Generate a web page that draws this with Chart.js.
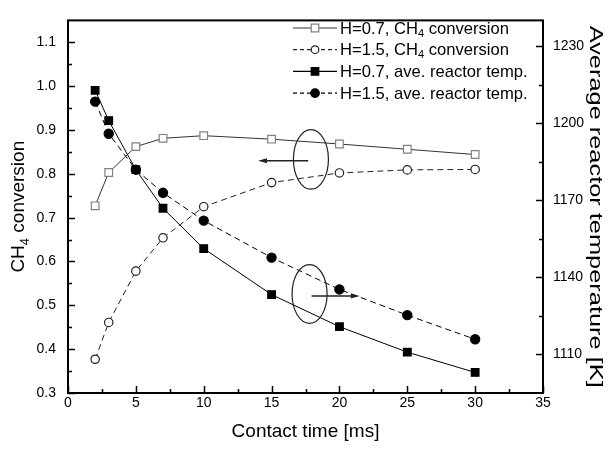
<!DOCTYPE html>
<html>
<head>
<meta charset="utf-8">
<script src="https://cdn.jsdelivr.net/npm/chart.js@4/dist/chart.umd.min.js"></script>
<style>
  body { margin: 0; background: #fff; }
  #wrap { width: 609px; height: 453px; }
</style>
</head>
<body>
<div id="wrap"><canvas id="chart" width="609" height="453"></canvas></div>
<script>
// Data
const contactTime = [2, 3, 5, 7, 10, 15, 20, 25, 30];           // ms
const conv07 = [0.727, 0.803, 0.862, 0.881, 0.887, 0.879, 0.868, 0.856, 0.844];
const conv15 = [0.377, 0.461, 0.578, 0.654, 0.725, 0.780, 0.802, 0.809, 0.810];
const temp07 = [1212.8, 1201.0, 1181.9, 1166.9, 1151.2, 1133.3, 1120.8, 1110.9, 1103.0]; // K
const temp15 = [1208.4, 1195.9, 1181.9, 1172.9, 1162.1, 1147.7, 1135.3, 1125.3, 1115.9]; // K

const seriesLabels = [
    'H=0.7, CH_4 conversion',
    'H=1.5, CH_4 conversion',
    'H=0.7, ave. reactor temp.',
    'H=1.5, ave. reactor temp.'
];

// Tick labels
const xTicks = [0, 5, 10, 15, 20, 25, 30, 35];
const convTicks = [0.3, 0.4, 0.5, 0.6, 0.7, 0.8, 0.9, 1.0, 1.1];
const tempTicks = [1110, 1140, 1170, 1200, 1230];

const xTitle = 'Contact time [ms]';
const yTitle = 'CH_4 conversion';
const y2Title = 'Average reactor temperature [K]';

const FONT = '"Liberation Sans", Arial, sans-serif';

// Pieces of text: '_4' means a subscript 4
function richParts(text) {
    const out = [];
    text.split('_').forEach((p, i) => {
        if (i > 0) {
            out.push({ t: p[0], sub: true });
            p = p.slice(1);
        }
        if (p) out.push({ t: p, sub: false });
    });
    return out;
}

function richWidth(ctx, text, size) {
    let w = 0;
    richParts(text).forEach(p => {
        ctx.font = (p.sub ? Math.round(size * 0.68) : size) + 'px ' + FONT;
        w += ctx.measureText(p.t).width;
    });
    return w;
}

function drawRich(ctx, text, x, y, size) {
    let cx = x;
    richParts(text).forEach(p => {
        const s = p.sub ? Math.round(size * 0.68) : size;
        ctx.font = s + 'px ' + FONT;
        ctx.fillText(p.t, cx, p.sub ? y + size * 0.28 : y);
        cx += ctx.measureText(p.t).width;
    });
}

function marker(ctx, style, filled, x, y, r, stroke) {
    ctx.save();
    ctx.setLineDash([]);
    ctx.lineWidth = 1.2;
    ctx.strokeStyle = stroke;
    ctx.fillStyle = filled ? '#000' : '#fff';
    ctx.beginPath();
    if (style === 'rect') {
        ctx.rect(x - r, y - r, 2 * r, 2 * r);
    } else {
        ctx.arc(x, y, r, 0, Math.PI * 2);
    }
    ctx.fill();
    ctx.stroke();
    ctx.restore();
}

// annotation ellipses with arrows, in data units of x and left y
const notes = [
    { cx: 17.9, cy: 0.833, rx: 1.29, ry: 0.068, from: 17.7, to: 14.0, ay: 0.830 },
    { cx: 17.8, cy: 0.526, rx: 1.29, ry: 0.067, from: 17.95, to: 21.5, ay: 0.521 }
];

const framePlugin = {
    id: 'frame',
    afterDraw(chart) {
        const ctx = chart.ctx;
        const a = chart.chartArea;
        const sx = chart.scales.x, sy = chart.scales.y, sy2 = chart.scales.y2;
        ctx.save();
        ctx.strokeStyle = '#000';

        // inward tick marks
        ctx.lineWidth = 1.5;
        ctx.beginPath();
        xTicks.forEach(v => {
            const p = Math.round(sx.getPixelForValue(v)) + 0.5;
            ctx.moveTo(p, a.bottom); ctx.lineTo(p, a.bottom - 7);
        });
        xTicks.slice(0, -1).forEach(v => {
            const p = Math.round(sx.getPixelForValue(v + 2.5)) + 0.5;
            ctx.moveTo(p, a.bottom); ctx.lineTo(p, a.bottom - 4);
        });
        convTicks.forEach(v => {
            const p = Math.round(sy.getPixelForValue(v)) + 0.5;
            ctx.moveTo(a.left, p); ctx.lineTo(a.left + 7, p);
            const m = Math.round(sy.getPixelForValue(v + 0.05)) + 0.5;
            if (v + 0.05 < 1.14) { ctx.moveTo(a.left, m); ctx.lineTo(a.left + 4, m); }
        });
        tempTicks.forEach(v => {
            const p = Math.round(sy2.getPixelForValue(v)) + 0.5;
            ctx.moveTo(a.right, p); ctx.lineTo(a.right - 7, p);
            if (v + 15 < 1240) {
                const m = Math.round(sy2.getPixelForValue(v + 15)) + 0.5;
                ctx.moveTo(a.right, m); ctx.lineTo(a.right - 4, m);
            }
        });
        ctx.stroke();

        // frame
        ctx.lineWidth = 2;
        ctx.strokeRect(a.left, a.top, a.right - a.left, a.bottom - a.top);

        // ellipses and arrows
        notes.forEach(n => {
            const px = sx.getPixelForValue(n.cx), py = sy.getPixelForValue(n.cy);
            const rx = sx.getPixelForValue(n.cx + n.rx) - px;
            const ry = py - sy.getPixelForValue(n.cy + n.ry);
            ctx.lineWidth = 1.2;
            ctx.strokeStyle = '#222';
            ctx.beginPath();
            ctx.ellipse(px, py, rx, ry, 0, 0, Math.PI * 2);
            ctx.stroke();
            const x1 = sx.getPixelForValue(n.from), x2 = sx.getPixelForValue(n.to);
            const ay = sy.getPixelForValue(n.ay);
            const dir = Math.sign(x2 - x1);
            ctx.lineWidth = 1.5;
            ctx.beginPath();
            ctx.moveTo(x1, ay); ctx.lineTo(x2 - dir * 6, ay);
            ctx.stroke();
            ctx.fillStyle = '#222';
            ctx.beginPath();
            ctx.moveTo(x2, ay);
            ctx.lineTo(x2 - dir * 9, ay - 2.5);
            ctx.lineTo(x2 - dir * 9, ay + 2.5);
            ctx.closePath();
            ctx.fill();
        });

        // axis titles
        ctx.fillStyle = '#000';
        ctx.textBaseline = 'alphabetic';
        ctx.textAlign = 'left';
        const size = 19;
        const cxm = (a.left + a.right) / 2, cym = (a.top + a.bottom) / 2;
        let w = richWidth(ctx, xTitle, size);
        drawRich(ctx, xTitle, cxm - w / 2, 437, size);

        ctx.save();
        ctx.translate(24, cym);
        ctx.rotate(-Math.PI / 2);
        w = richWidth(ctx, yTitle, size);
        drawRich(ctx, yTitle, -w / 2, 0, size);
        ctx.restore();

        // the right title is stretched along its length in the original
        ctx.save();
        ctx.translate(590, cym);
        ctx.rotate(Math.PI / 2);
        w = richWidth(ctx, y2Title, size);
        ctx.scale(362 / w, 1);
        drawRich(ctx, y2Title, -w / 2, 0, size);
        ctx.restore();

        // legend
        const styles = [
            { ps: 'rect', fill: false, dash: [], r: 3.8, stroke: '#808080', line: '#333' },
            { ps: 'circle', fill: false, dash: [4, 3], r: 3.8, stroke: '#222', line: '#222' },
            { ps: 'rect', fill: true, dash: [], r: 3.8, stroke: '#000', line: '#000' },
            { ps: 'circle', fill: true, dash: [4, 3], r: 4.3, stroke: '#000', line: '#000' }
        ];
        seriesLabels.forEach((lab, i) => {
            const y = 28 + i * 21.7;
            const st = styles[i];
            ctx.save();
            ctx.strokeStyle = st.line;
            ctx.lineWidth = 1.2;
            ctx.setLineDash(st.dash);
            ctx.beginPath();
            ctx.moveTo(293, y); ctx.lineTo(337, y);
            ctx.stroke();
            ctx.restore();
            marker(ctx, st.ps, st.fill, 315, y, st.r, st.stroke);
            ctx.fillStyle = '#000';
            ctx.textBaseline = 'middle';
            drawRich(ctx, lab, 340, y + 1, 16.6);
        });
        ctx.restore();
    }
};

function line(label, data, axis, opts) {
    return Object.assign({
        label: label,
        data: contactTime.map((t, i) => ({ x: t, y: data[i] })),
        yAxisID: axis,
        borderColor: '#222',
        borderWidth: 1,
        tension: 0,
        fill: false,
        pointBorderWidth: 1.2,
        pointHoverRadius: 0
    }, opts);
}

const tickFont = { family: FONT, size: 14 };
const noGrid = { display: false, drawTicks: false };

new Chart(document.getElementById('chart'), {
    type: 'line',
    data: {
        datasets: [
            line(seriesLabels[0], conv07, 'y', {
                borderColor: '#333', pointStyle: 'rect', pointRadius: 5.4,
                pointBackgroundColor: '#fff', pointBorderColor: '#808080'
            }),
            line(seriesLabels[1], conv15, 'y', {
                borderDash: [6, 4], pointStyle: 'circle', pointRadius: 4.2,
                pointBackgroundColor: '#fff', pointBorderColor: '#222'
            }),
            line(seriesLabels[2], temp07, 'y2', {
                borderColor: '#000', pointStyle: 'rect', pointRadius: 5.4,
                pointBackgroundColor: '#000', pointBorderColor: '#000'
            }),
            line(seriesLabels[3], temp15, 'y2', {
                borderColor: '#000', borderDash: [6, 4], pointStyle: 'circle', pointRadius: 4.6,
                pointBackgroundColor: '#000', pointBorderColor: '#000'
            })
        ]
    },
    options: {
        responsive: false,
        animation: false,
        devicePixelRatio: 1,
        layout: { padding: { top: 7, left: 0, right: 0, bottom: 0 } },
        plugins: { legend: { display: false }, tooltip: { enabled: false } },
        scales: {
            x: {
                type: 'linear', min: 0, max: 35,
                afterBuildTicks: s => { s.ticks = xTicks.map(v => ({ value: v })); },
                afterFit: s => { s.height = 60; },
                grid: noGrid, border: { display: false },
                ticks: { padding: 2, color: '#000', font: tickFont, maxRotation: 0, autoSkip: false,
                         callback: v => String(v) }
            },
            y: {
                type: 'linear', position: 'left', min: 0.3, max: 1.15,
                afterBuildTicks: s => { s.ticks = convTicks.map(v => ({ value: v })); },
                afterFit: s => { s.width = 68; },
                grid: noGrid, border: { display: false },
                ticks: { padding: 12, color: '#000', font: tickFont, autoSkip: false,
                         callback: v => v.toFixed(1) }
            },
            y2: {
                type: 'linear', position: 'right', min: 1095, max: 1240,
                afterBuildTicks: s => { s.ticks = tempTicks.map(v => ({ value: v })); },
                afterFit: s => { s.width = 66; },
                grid: noGrid, border: { display: false },
                ticks: { padding: 10, color: '#000', font: tickFont, autoSkip: false,
                         callback: v => String(v) }
            }
        }
    },
    plugins: [framePlugin]
});
</script>
</body>
</html>
